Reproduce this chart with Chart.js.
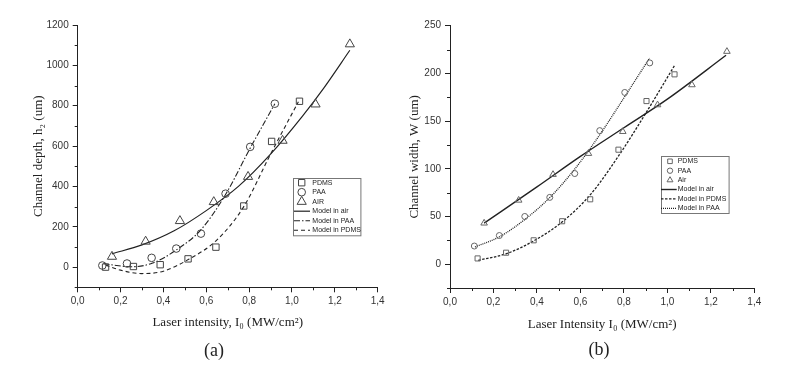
<!DOCTYPE html>
<html lang="en">
<head>
<meta charset="UTF-8">
<script src="https://cdn.jsdelivr.net/npm/chart.js"></script>
<title>Channel depth and width vs laser intensity</title>
<style>
    body { margin: 0; background: #fff; }
    #wrap { position: relative; width: 802px; height: 382px; background: #fff; }
    canvas { position: absolute; top: 0; }
    #chartA { left: 0; }
    #chartB { left: 400px; }
    .panel {
        position: absolute;
        font-family: "Liberation Serif", "Times New Roman", serif;
        font-size: 18px;
        color: #222;
        transform: translate(-50%, -50%);
    }
</style>
</head>
<body>
<div id="wrap">
    <canvas id="chartA" width="400" height="382"></canvas>
    <canvas id="chartB" width="402" height="382"></canvas>
    <div class="panel" style="left:214px;top:350px">(a)</div>
    <div class="panel" style="left:599px;top:349px">(b)</div>
</div>
<script>
// ---- (a) channel depth h2 (um) ----
const depthPdmsX = [0.13, 0.26, 0.385, 0.515, 0.645, 0.775, 0.905, 1.035];
const depthPdmsY = [0, 3, 12, 41, 99, 303, 623, 822];
const depthPaaX = [0.115, 0.23, 0.345, 0.46, 0.575, 0.69, 0.805, 0.92];
const depthPaaY = [8, 18, 46, 92, 166, 364, 596, 810];
const depthAirX = [0.16, 0.317, 0.477, 0.635, 0.795, 0.956, 1.11, 1.27];
const depthAirY = [52, 127, 229, 323, 448, 627, 807, 1105];
// model curves
const depthAirModelX = [0.16, 0.3, 0.45, 0.6, 0.75, 0.9, 1.05, 1.15, 1.27];
const depthAirModelY = [66, 110, 180, 280, 400, 560, 750, 890, 1075];
const depthPaaModelX = [0.12, 0.18, 0.25, 0.35, 0.46, 0.575, 0.69, 0.8, 0.92];
const depthPaaModelY = [18, 8, 2, 20, 85, 185, 360, 580, 810];
const depthPdmsModelX = [0.13, 0.2, 0.3, 0.4, 0.52, 0.65, 0.775, 0.9, 1.03];
const depthPdmsModelY = [10, -15, -32, -20, 40, 135, 300, 560, 820];

// ---- (b) channel width W (um) ----
const widthPdmsX = [0.127, 0.258, 0.385, 0.516, 0.645, 0.775, 0.904, 1.033];
const widthPdmsY = [6, 12, 25, 45, 68, 120, 171, 199];
const widthPaaX = [0.112, 0.227, 0.344, 0.459, 0.574, 0.689, 0.804, 0.919];
const widthPaaY = [19, 30, 50, 70, 95, 140, 180, 211];
const widthAirX = [0.157, 0.316, 0.474, 0.637, 0.795, 0.955, 1.113, 1.274];
const widthAirY = [43, 67, 94, 116, 139, 167, 188, 223];
const widthAirModelX = [0.157, 0.4, 0.6, 0.8, 1.0, 1.27];
const widthAirModelY = [43, 81, 113, 143, 173, 219];
const widthPdmsModelX = [0.13, 0.26, 0.39, 0.52, 0.65, 0.78, 0.9, 1.035];
const widthPdmsModelY = [4, 11, 25, 45, 74, 115, 158, 209];
const widthPaaModelX = [0.115, 0.23, 0.345, 0.46, 0.575, 0.69, 0.805, 0.918];
const widthPaaModelY = [18, 29, 47, 70, 100, 136, 176, 216];

const SANS = "'Liberation Sans', Arial, sans-serif";
const SERIF = "'Liberation Serif', 'Times New Roman', serif";
const INK = '#222';

function pts(xs, ys) {
    return xs.map((x, i) => ({x: x, y: ys[i]}));
}

function markers(label, xs, ys, style, r, color) {
    return {
        label: label, data: pts(xs, ys), showLine: false,
        pointStyle: style, pointRadius: r, pointHoverRadius: r,
        pointBorderWidth: 1, pointBorderColor: color, pointBackgroundColor: 'rgba(0,0,0,0)'
    };
}

function model(label, xs, ys, dash, width) {
    return {
        label: label, data: pts(xs, ys), showLine: true,
        borderColor: INK, borderWidth: width, borderDash: dash,
        pointRadius: 0, cubicInterpolationMode: 'monotone', fill: false
    };
}

// short ticks half way between the labelled ones
const minorTicks = {
    id: 'minorTicks',
    afterDraw(chart) {
        const ctx = chart.ctx;
        const xs = chart.scales.x, ys = chart.scales.y;
        ctx.save();
        ctx.strokeStyle = INK;
        ctx.lineWidth = 1;
        ctx.beginPath();
        for (let i = 0; i < xs.ticks.length - 1; i++) {
            const px = Math.round(xs.getPixelForValue((xs.ticks[i].value + xs.ticks[i + 1].value) / 2)) + 0.5;
            ctx.moveTo(px, xs.top);
            ctx.lineTo(px, xs.top + 3);
        }
        const yv = ys.ticks.map(t => t.value);
        const step = yv[1] - yv[0];
        for (let v = yv[0] - step / 2; v < yv[yv.length - 1]; v += step) {
            if (v < ys.min) continue;
            const py = Math.round(ys.getPixelForValue(v)) + 0.5;
            ctx.moveTo(ys.right, py);
            ctx.lineTo(ys.right - 3, py);
        }
        ctx.stroke();
        ctx.restore();
    }
};

function drawMark(ctx, style, x, y, r) {
    ctx.beginPath();
    if (style === 'rect') {
        const s = Math.SQRT1_2 * r;
        ctx.rect(x - s, y - s, 2 * s, 2 * s);
    } else if (style === 'triangle') {
        ctx.moveTo(x, y - r);
        ctx.lineTo(x + Math.sin(Math.PI * 2 / 3) * r, y + r / 2);
        ctx.lineTo(x - Math.sin(Math.PI * 2 / 3) * r, y + r / 2);
        ctx.closePath();
    } else {
        ctx.arc(x, y, r, 0, Math.PI * 2);
    }
    ctx.stroke();
}

// boxed legend sitting inside the plot
const boxLegend = {
    id: 'boxLegend',
    afterDraw(chart, args, o) {
        const ctx = chart.ctx;
        ctx.save();
        ctx.fillStyle = '#fff';
        ctx.fillRect(o.x, o.y, o.w, o.h);
        ctx.strokeStyle = '#777';
        ctx.lineWidth = 1;
        ctx.strokeRect(Math.round(o.x) + 0.5, Math.round(o.y) + 0.5, o.w, o.h);
        ctx.font = '7px ' + SANS;
        ctx.textBaseline = 'middle';
        chart.data.datasets.forEach((ds, row) => {
            const cy = o.y + o.first + row * o.rowH;
            if (ds.showLine) {
                ctx.strokeStyle = ds.borderColor;
                ctx.lineWidth = ds.borderWidth;
                ctx.setLineDash(ds.borderDash || []);
                ctx.beginPath();
                ctx.moveTo(o.x + o.line0, cy);
                ctx.lineTo(o.x + o.line1, cy);
                ctx.stroke();
                ctx.setLineDash([]);
            } else {
                ctx.strokeStyle = ds.pointBorderColor;
                ctx.lineWidth = 1;
                drawMark(ctx, ds.pointStyle, o.x + o.markX, cy, ds.pointRadius * o.markScale);
            }
            ctx.fillStyle = INK;
            ctx.fillText(ds.label, o.x + o.textX, cy);
        });
        ctx.restore();
    }
};

function makeOptions(cfg) {
    return {
        responsive: false,
        animation: false,
        devicePixelRatio: 1,
        layout: {padding: cfg.pad},
        plugins: {
            legend: {display: false},
            tooltip: {enabled: false},
            boxLegend: cfg.legend
        },
        scales: {
            x: {
                type: 'linear', min: 0, max: 1.4,
                grid: {drawOnChartArea: false, tickLength: 5, tickColor: INK},
                border: {color: INK, width: 1},
                ticks: {
                    stepSize: 0.2, autoSkip: false, includeBounds: false, maxRotation: 0,
                    padding: 3, color: '#333', font: {family: SANS, size: 10},
                    callback: v => v.toFixed(1).replace('.', ',')
                },
                title: {
                    display: true, text: cfg.xTitle, color: INK,
                    font: {family: SERIF, size: 13}, padding: {top: 0, bottom: cfg.xTitlePad}
                },
                afterFit: s => { s.height = 60; }
            },
            y: {
                type: 'linear', min: cfg.yMin, max: cfg.yMax,
                grid: {drawOnChartArea: false, tickLength: 5, tickColor: INK},
                border: {color: INK, width: 1},
                ticks: {
                    stepSize: cfg.yStep, autoSkip: false, includeBounds: false,
                    padding: 4, color: '#333', font: {family: SANS, size: 10},
                    callback: v => String(v)
                },
                title: {
                    display: true, text: cfg.yTitle, color: INK,
                    font: {family: SERIF, size: 13}, padding: {top: cfg.yTitlePad, bottom: 0}
                },
                afterFit: s => { s.width = cfg.yWidth; }
            }
        }
    };
}

new Chart(document.getElementById('chartA'), {
    type: 'scatter',
    data: {
        datasets: [
            markers('PDMS', depthPdmsX, depthPdmsY, 'rect', 4.5, '#444'),
            markers('PAA', depthPaaX, depthPaaY, 'circle', 3.8, '#444'),
            markers('AIR', depthAirX, depthAirY, 'triangle', 5.3, '#444'),
            model('Model in air', depthAirModelX, depthAirModelY, [], 1.2),
            model('Model in PAA', depthPaaModelX, depthPaaModelY, [6, 2, 1.5, 2], 1.1),
            model('Model in PDMS', depthPdmsModelX, depthPdmsModelY, [4, 3], 1.1)
        ]
    },
    options: makeOptions({
        pad: {left: 0, top: 25, right: 22.3, bottom: 34.7},
        yMin: -100, yMax: 1200, yStep: 200, yWidth: 77.7,
        xTitle: 'Laser intensity, I\u2080 (MW/cm\u00b2)', xTitlePad: 16.5,
        yTitle: 'Channel depth, h\u2082 (um)', yTitlePad: 31.2,
        legend: {x: 293.3, y: 177.7, w: 67.4, h: 57.3, first: 5, rowH: 9.5,
                 markX: 8.4, markScale: 1, line0: 0.7, line1: 16.7, textX: 19}
    }),
    plugins: [minorTicks, boxLegend]
});

new Chart(document.getElementById('chartB'), {
    type: 'scatter',
    data: {
        datasets: [
            markers('PDMS', widthPdmsX, widthPdmsY, 'rect', 3.6, '#666'),
            markers('PAA', widthPaaX, widthPaaY, 'circle', 3, '#666'),
            markers('Air', widthAirX, widthAirY, 'triangle', 3.8, '#666'),
            model('Model in air', widthAirModelX, widthAirModelY, [], 1.4),
            model('Model in PDMS', widthPdmsModelX, widthPdmsModelY, [2.5, 1.5], 1.3),
            model('Model in PAA', widthPaaModelX, widthPaaModelY, [1, 1], 1.3)
        ]
    },
    options: makeOptions({
        pad: {left: 0, top: 25.7, right: 47.7, bottom: 34},
        yMin: -25, yMax: 250, yStep: 50, yWidth: 50,
        xTitle: 'Laser Intensity I\u2080 (MW/cm\u00b2)', xTitlePad: 15.2,
        yTitle: 'Channel width, W (um)', yTitlePad: 7.2,
        legend: {x: 260.7, y: 156, w: 67.6, h: 57, first: 5.3, rowH: 9.4,
                 markX: 9.3, markScale: 0.9, line0: 0.3, line1: 16, textX: 17}
    }),
    plugins: [minorTicks, boxLegend]
});
</script>
</body>
</html>
